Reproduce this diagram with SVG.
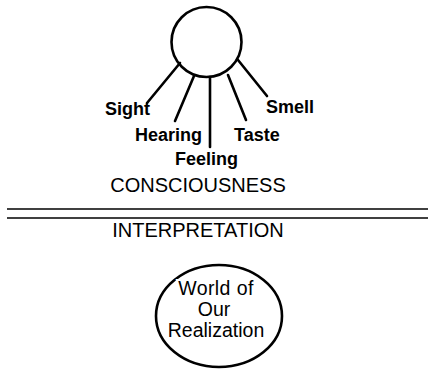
<svg xmlns="http://www.w3.org/2000/svg" width="428" height="371" viewBox="0 0 428 371">
<style>
.ln{stroke:#000;stroke-width:2.6;fill:none;stroke-linecap:round}
.sense{font-family:"Liberation Sans",Arial,sans-serif;font-weight:bold;font-size:18px;fill:#000}
.big{font-family:"Liberation Sans",Arial,sans-serif;font-size:20px;fill:#000;text-anchor:middle}
.inner{font-family:"Liberation Sans",Arial,sans-serif;font-size:19.5px;fill:#000;text-anchor:middle;stroke:#fff;stroke-width:4;paint-order:stroke}
.sep{stroke:#000;stroke-width:1.5}
</style>
<rect width="428" height="371" fill="#fff"/>
<g id="mind">
<circle cx="206.5" cy="42" r="35" class="ln"/>
</g>
<g id="connectors">
<line x1="180" y1="63" x2="147" y2="103" class="ln"/>
<line x1="194" y1="76" x2="175" y2="121" class="ln"/>
<line x1="210" y1="77" x2="210" y2="147" class="ln"/>
<line x1="228" y1="75" x2="246" y2="120" class="ln"/>
<line x1="238" y1="60" x2="267" y2="96" class="ln"/>
</g>
<g id="sight"><text class="sense" x="105" y="115">Sight</text></g>
<g id="hearing"><text class="sense" x="135" y="141">Hearing</text></g>
<g id="feeling"><text class="sense" x="175" y="165">Feeling</text></g>
<g id="taste"><text class="sense" x="234" y="141">Taste</text></g>
<g id="smell"><text class="sense" x="266" y="113">Smell</text></g>
<g id="consciousness"><text class="big" x="198" y="192" font-size="21">CONSCIOUSNESS</text></g>
<g id="separator">
<line x1="7" y1="209" x2="428" y2="209" class="sep"/>
<line x1="7" y1="218" x2="428" y2="218" class="sep"/>
</g>
<g id="interpretation"><text class="big" x="198" y="237">INTERPRETATION</text></g>
<g id="world">
<ellipse cx="219" cy="316" rx="63" ry="51" class="ln"/>
<text class="inner" x="216" y="295" letter-spacing="0.4">World of</text>
<text class="inner" x="214" y="316">Our</text>
<text class="inner" x="216" y="337">Realization</text>
</g>
</svg>
